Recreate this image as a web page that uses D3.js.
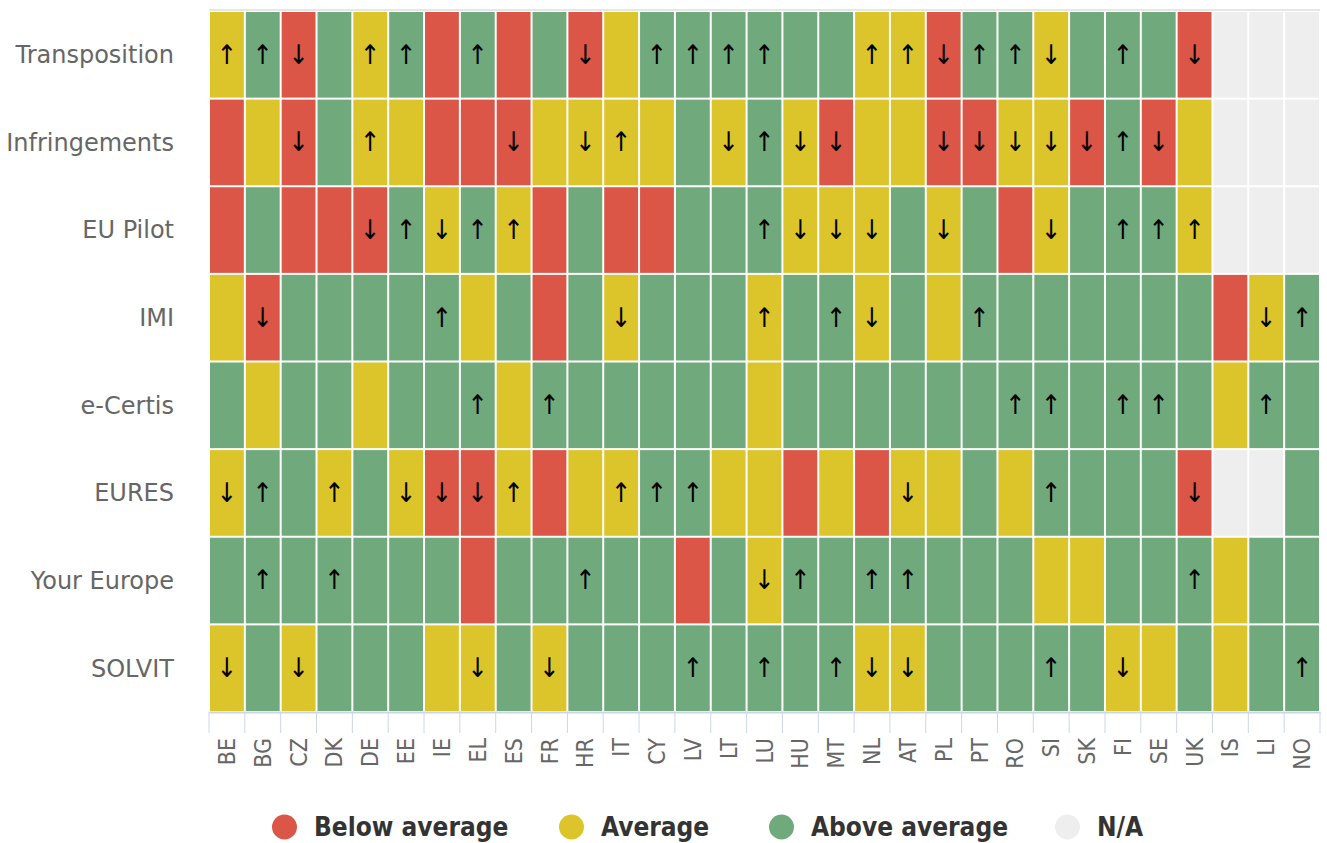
<!DOCTYPE html>
<html>
<head>
<meta charset="utf-8">
<script src="https://cdn.jsdelivr.net/npm/d3@7"></script>
<style>
  html, body { margin: 0; padding: 0; background: #ffffff; }
  svg { display: block; }
</style>
</head>
<body>
<svg id="chart" width="1327" height="843"></svg>
<script>
// ---- Data ----
const countries = ["BE","BG","CZ","DK","DE","EE","IE","EL","ES","FR","HR","IT","CY","LV","LT","LU","HU","MT","NL","AT","PL","PT","RO","SI","SK","FI","SE","UK","IS","LI","NO"];
const tools = ["Transposition","Infringements","EU Pilot","IMI","e-Certis","EURES","Your Europe","SOLVIT"];
const statusNames = ["Below average","Average","Above average","N/A"];
const statusCodes = ["R","Y","G","N"];
// Status per tool: R = below average, Y = average, G = above average, N = N/A (country order)
const statusTransposition = ["Y","G","R","G","Y","G","R","G","R","G","R","Y","G","G","G","G","G","G","Y","Y","R","G","G","Y","G","G","G","R","N","N","N"];
const statusInfringements = ["R","Y","R","G","Y","Y","R","R","R","Y","Y","Y","Y","G","Y","G","Y","R","Y","Y","R","R","Y","Y","R","G","R","Y","N","N","N"];
const statusEUPilot = ["R","G","R","R","R","G","Y","G","Y","R","G","R","R","G","G","G","Y","Y","Y","G","Y","G","R","Y","G","G","G","Y","N","N","N"];
const statusIMI = ["Y","R","G","G","G","G","G","Y","G","R","G","Y","G","G","G","Y","G","G","Y","G","Y","G","G","G","G","G","G","G","R","Y","G"];
const statusECertis = ["G","Y","G","G","Y","G","G","G","Y","G","G","G","G","G","G","Y","G","G","G","G","G","G","G","G","G","G","G","G","Y","G","G"];
const statusEURES = ["Y","G","G","Y","G","Y","R","R","Y","R","Y","Y","G","G","Y","Y","R","Y","R","Y","Y","G","Y","G","G","G","G","R","N","N","G"];
const statusYourEurope = ["G","G","G","G","G","G","G","R","G","G","G","G","G","R","G","Y","G","G","G","G","G","G","G","Y","Y","G","G","G","Y","G","G"];
const statusSOLVIT = ["Y","G","Y","G","G","G","Y","Y","G","Y","G","G","G","G","G","G","G","G","Y","Y","G","G","G","G","G","Y","Y","G","Y","G","G"];
// Trend per tool: "u" = up, "d" = down, "" = none
const trendTransposition = ["u","u","d","","u","u","","u","","","d","","u","u","u","u","","","u","u","d","u","u","d","","u","","d","","",""];
const trendInfringements = ["","","d","","u","","","","d","","d","u","","","d","u","d","d","","","d","d","d","d","d","u","d","","","",""];
const trendEUPilot = ["","","","","d","u","d","u","u","","","","","","","u","d","d","d","","d","","","d","","u","u","u","","",""];
const trendIMI = ["","d","","","","","u","","","","","d","","","","u","","u","d","","","u","","","","","","","","d","u"];
const trendECertis = ["","","","","","","","u","","u","","","","","","","","","","","","","u","u","","u","u","","","u",""];
const trendEURES = ["d","u","","u","","d","d","d","u","","","u","u","u","","","","","","d","","","","u","","","","d","","",""];
const trendYourEurope = ["","u","","u","","","","","","","u","","","","","d","u","","u","u","","","","","","","","u","","",""];
const trendSOLVIT = ["d","","d","","","","","d","","d","","","","u","","u","","u","d","d","","","","u","","d","","","","","u"];

const statusRows = [statusTransposition, statusInfringements, statusEUPilot, statusIMI, statusECertis, statusEURES, statusYourEurope, statusSOLVIT];
const trendRows = [trendTransposition, trendInfringements, trendEUPilot, trendIMI, trendECertis, trendEURES, trendYourEurope, trendSOLVIT];

// ---- Styles ----
const colorOf = d3.scaleOrdinal().domain(statusCodes).range(["#dc5647", "#dcc42b", "#70aa7c", "#eeeeee"]);
const arrowGlyph = { u: "\u2191", d: "\u2193" };

// ---- Layout ----
const plot = { left: 209, right: 1320, top: 11, bottom: 712 };
const svg = d3.select("#chart");

const x = d3.scaleBand().domain(countries).range([plot.left, plot.right]).padding(0);
const y = d3.scaleBand().domain(tools).range([plot.top, plot.bottom]).padding(0);

const cells = [];
tools.forEach((t, i) => {
  countries.forEach((c, j) => {
    cells.push({ tool: t, country: c, status: statusRows[i][j], trend: trendRows[i][j] });
  });
});

// top border line
svg.append("line")
  .attr("x1", plot.left).attr("x2", plot.right)
  .attr("y1", plot.top - 1).attr("y2", plot.top - 1)
  .attr("stroke", "#e6e6e6").attr("stroke-width", 2);

const g = svg.append("g");
g.selectAll("rect.cell").data(cells).join("rect")
  .attr("class", "cell")
  .attr("x", d => x(d.country) + 1)
  .attr("y", d => y(d.tool) + 1)
  .attr("width", x.bandwidth() - 2)
  .attr("height", y.bandwidth() - 2)
  .attr("fill", d => colorOf(d.status));

g.selectAll("text.arrow").data(cells.filter(d => d.trend)).join("text")
  .attr("class", "arrow")
  .attr("x", d => x(d.country) + x.bandwidth() / 2)
  .attr("y", d => y(d.tool) + y.bandwidth() / 2)
  .attr("dy", "0.33em")
  .attr("text-anchor", "middle")
  .attr("font-family", "DejaVu Sans Condensed, DejaVu Sans, sans-serif")
  .attr("font-size", 27)
  .attr("fill", "#000")
  .text(d => arrowGlyph[d.trend]);

// Y axis labels
svg.append("g").selectAll("text").data(tools).join("text")
  .attr("x", 174)
  .attr("y", d => y(d) + y.bandwidth() / 2)
  .attr("dy", "0.35em")
  .attr("text-anchor", "end")
  .attr("font-family", "DejaVu Sans, sans-serif")
  .attr("font-size", 24)
  .attr("fill", "#666666")
  .text(d => d);

// X axis
const xAxis = d3.axisBottom(x).tickSize(0).tickFormat("");
const ax = svg.append("g").attr("transform", `translate(0,${plot.bottom})`).call(xAxis);
ax.select(".domain").attr("stroke", "#ccd6eb").attr("stroke-width", 2);
const boundaries = countries.map(c => x(c)).concat([plot.right]);
svg.append("g").selectAll("line").data(boundaries).join("line")
  .attr("x1", d => d).attr("x2", d => d)
  .attr("y1", plot.bottom).attr("y2", plot.bottom + 21)
  .attr("stroke", "#ccd6eb").attr("stroke-width", 1);

svg.append("g").selectAll("text").data(countries).join("text")
  .attr("transform", d => `translate(${x(d) + x.bandwidth() / 2},${plot.bottom + 26}) rotate(-90)`)
  .attr("dy", "0.35em")
  .attr("text-anchor", "end")
  .attr("font-family", "DejaVu Sans Condensed, DejaVu Sans, sans-serif")
  .attr("font-stretch", "condensed")
  .attr("font-size", 23)
  .attr("fill", "#666666")
  .text(d => d);

// Legend
const legendY = 827;
const legendStarts = [272, 559, 769, 1055];
const items = svg.append("g").selectAll("g").data(statusCodes).join("g")
  .attr("transform", (d, i) => `translate(${legendStarts[i]},${legendY})`);
items.append("circle").attr("r", 12.5).attr("cx", 12.5).attr("cy", 0).attr("fill", d => colorOf(d));
items.append("text")
  .attr("x", 42).attr("y", 0).attr("dy", "0.36em")
  .attr("font-family", "DejaVu Sans Condensed, DejaVu Sans, sans-serif")
  .attr("font-stretch", "condensed")
  .attr("font-weight", "bold")
  .attr("font-size", 26)
  .attr("fill", "#333333")
  .text((d, i) => statusNames[i]);
</script>
</body>
</html>
